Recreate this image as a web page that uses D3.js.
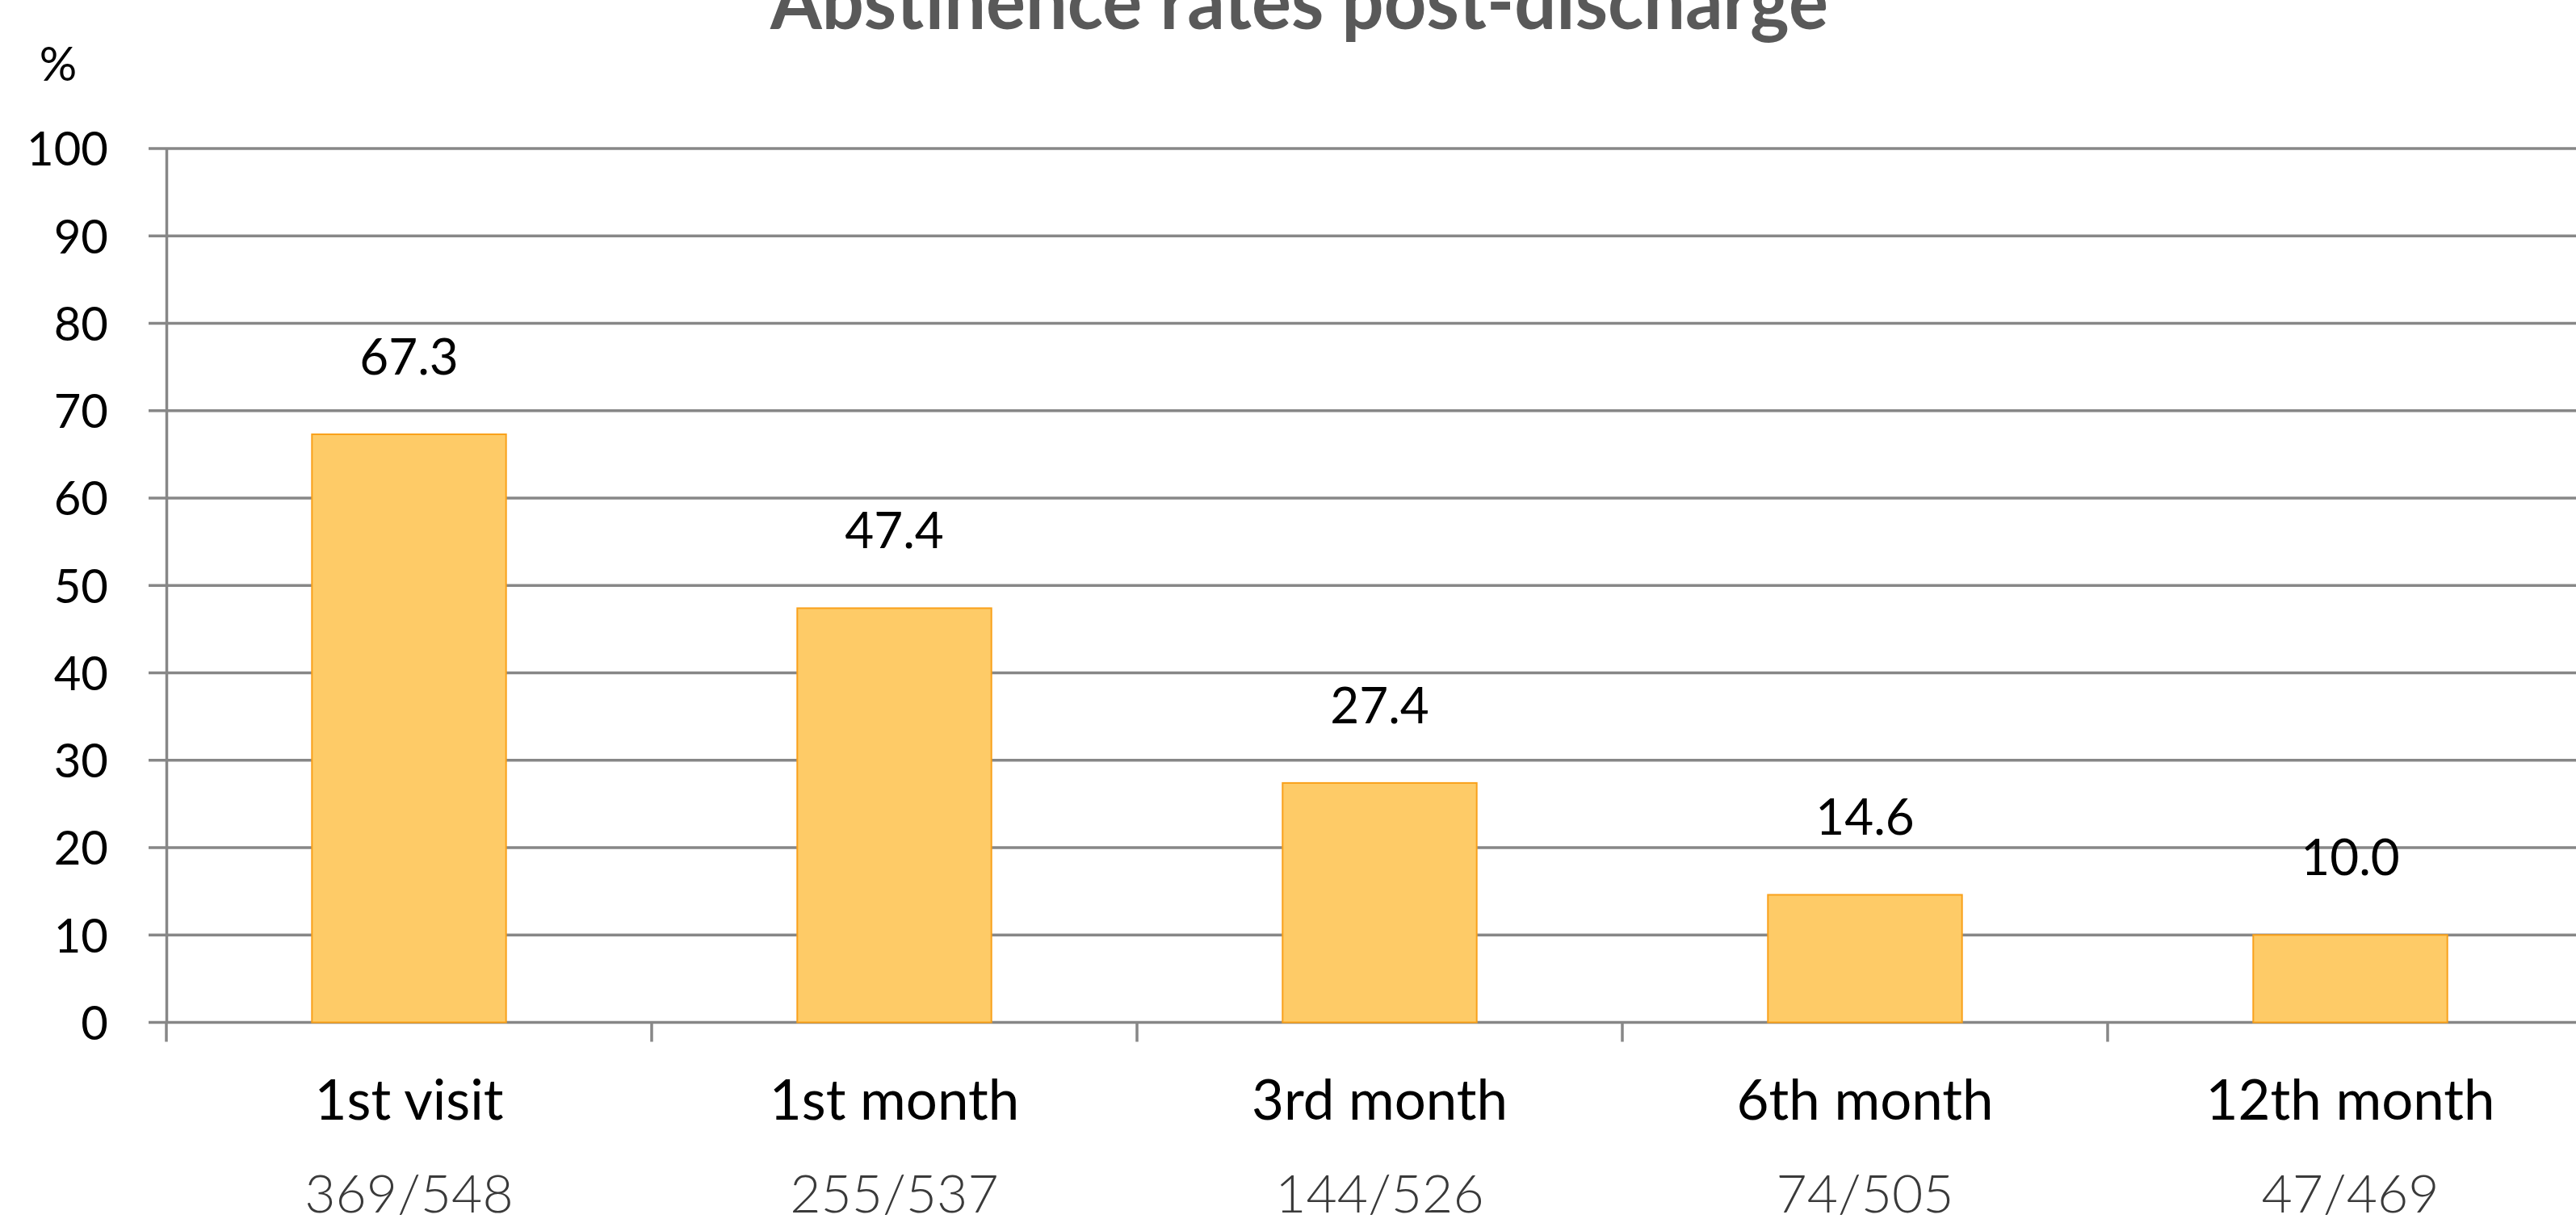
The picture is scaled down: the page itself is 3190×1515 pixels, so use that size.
<!DOCTYPE html>
<html>
<head>
<meta charset="utf-8">
<script src="https://cdn.jsdelivr.net/npm/d3@7"></script>
<style>
  body { margin: 0; background: #fff; }
  svg { display: block; font-family: Lato, "Open Sans", sans-serif; }
</style>
</head>
<body>
<svg id="chart" width="3190" height="1515"></svg>
<script>
// chart data
var categories = ['1st visit', '1st month', '3rd month', '6th month', '12th month'];
var rates = [67.3, 47.4, 27.4, 14.6, 10.0];
var counts = ['369/548', '255/537', '144/526', '74/505', '47/469'];
var yTicks = [0, 10, 20, 30, 40, 50, 60, 70, 80, 90, 100];

(function () {
  var width = 3190;
  var plotLeft = 206, plotTop = 184, plotBottom = 1266.5;
  var step = 601;

  var svg = d3.select('#chart');

  var x = d3.scaleBand()
    .domain(categories)
    .range([plotLeft, plotLeft + step * categories.length])
    .paddingInner(0.6)
    .paddingOuter(0.3);

  var y = d3.scaleLinear()
    .domain([0, 100])
    .range([plotBottom, plotTop]);

  // horizontal gridlines, running past the right edge
  svg.append('g')
    .selectAll('line')
    .data(yTicks)
    .enter().append('line')
    .attr('x1', plotLeft - 22)
    .attr('x2', width)
    .attr('y1', function (d) { return y(d); })
    .attr('y2', function (d) { return y(d); })
    .attr('stroke', '#878787')
    .attr('stroke-width', 3.5);

  // y axis (labels and the vertical line)
  var yAxis = svg.append('g')
    .attr('transform', 'translate(' + plotLeft + ',0)')
    .call(d3.axisLeft(y).tickValues(yTicks).tickSize(0).tickSizeOuter(0).tickPadding(72));

  yAxis.select('.domain').attr('stroke', '#878787').attr('stroke-width', 3.5);
  yAxis.selectAll('text')
    .attr('font-family', 'Lato, sans-serif')
    .attr('font-size', 58)
    .attr('fill', '#000')
    .attr('dy', '0.36em');

  // category boundary ticks below the baseline
  var boundaries = d3.range(categories.length + 1).map(function (i) {
    return x.range()[0] + i * x.step();
  });

  svg.append('g')
    .selectAll('line')
    .data(boundaries)
    .enter().append('line')
    .attr('x1', function (d) { return d; })
    .attr('x2', function (d) { return d; })
    .attr('y1', plotBottom)
    .attr('y2', plotBottom + 24)
    .attr('stroke', '#878787')
    .attr('stroke-width', 3.5);

  // bars
  svg.append('g')
    .selectAll('rect')
    .data(rates)
    .enter().append('rect')
    .attr('x', function (d, i) { return x(categories[i]); })
    .attr('y', function (d) { return y(d); })
    .attr('width', x.bandwidth())
    .attr('height', function (d) { return y(0) - y(d); })
    .attr('fill', '#fecb67')
    .attr('stroke', '#f9a11b')
    .attr('stroke-width', 2);

  // value labels
  svg.append('g')
    .selectAll('text')
    .data(rates)
    .enter().append('text')
    .attr('x', function (d, i) { return x(categories[i]) + x.bandwidth() / 2; })
    .attr('y', function (d) { return y(d) - 74; })
    .attr('text-anchor', 'middle')
    .attr('font-size', 62)
    .attr('fill', '#000')
    .text(function (d) { return d.toFixed(1); });

  // category names
  svg.append('g')
    .selectAll('text')
    .data(categories)
    .enter().append('text')
    .attr('x', function (d) { return x(d) + x.bandwidth() / 2; })
    .attr('y', 1387)
    .attr('text-anchor', 'middle')
    .attr('font-size', 69)
    .attr('fill', '#000')
    .text(function (d) { return d; });

  // n / N under each category
  svg.append('g')
    .selectAll('text')
    .data(counts)
    .enter().append('text')
    .attr('x', function (d, i) { return x(categories[i]) + x.bandwidth() / 2; })
    .attr('y', 1502)
    .attr('text-anchor', 'middle')
    .attr('font-size', 66)
    .attr('font-weight', 300)
    .attr('fill', '#3a3a3a')
    .text(function (d) { return d; });

  // unit label
  svg.append('text')
    .attr('x', 72)
    .attr('y', 100)
    .attr('text-anchor', 'middle')
    .attr('font-size', 58)
    .attr('fill', '#000')
    .text('%');

  // title, cut off at the top like the source
  svg.append('text')
    .attr('x', 1609)
    .attr('y', 36)
    .attr('text-anchor', 'middle')
    .attr('font-size', 96)
    .attr('font-weight', 700)
    .attr('fill', '#595959')
    .attr('textLength', 1310)
    .attr('lengthAdjust', 'spacingAndGlyphs')
    .text('Abstinence rates post-discharge');
}());
</script>
</body>
</html>
